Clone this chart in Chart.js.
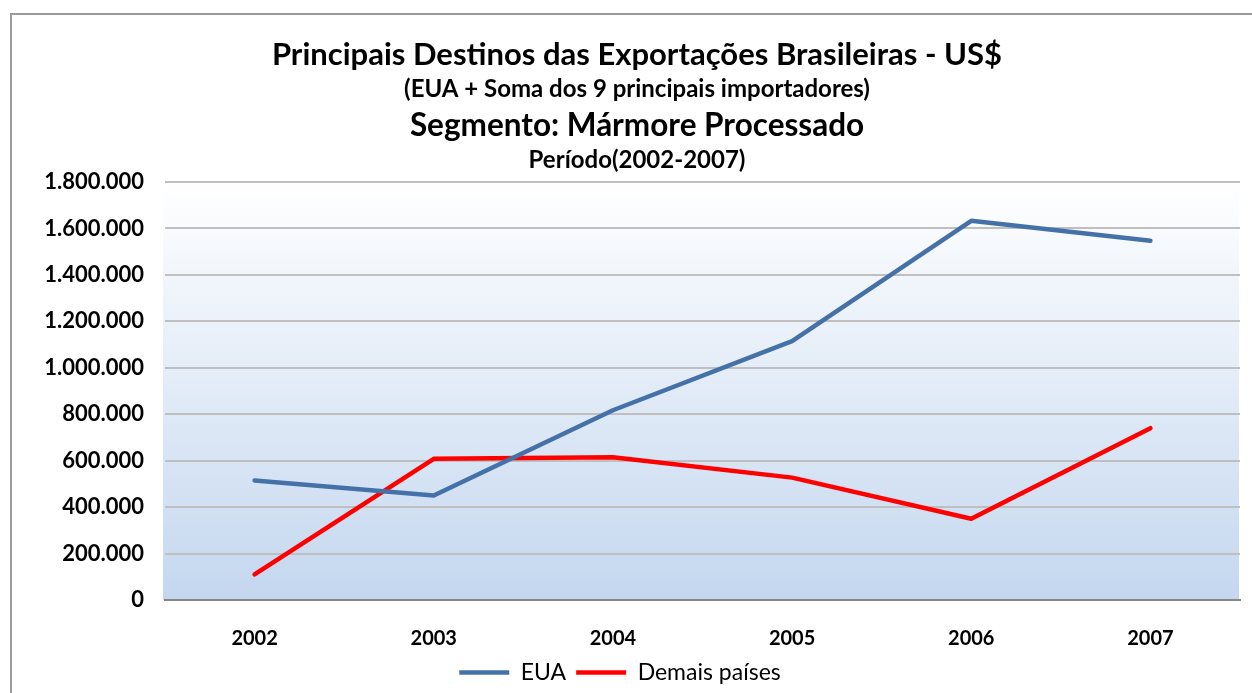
<!DOCTYPE html>
<html>
<head>
<meta charset="utf-8">
<script src="https://cdn.jsdelivr.net/npm/chart.js@4.4.0/dist/chart.umd.min.js"></script>
<style>
  html, body { margin: 0; padding: 0; background: #fff; overflow: hidden; }
  #marco { position: absolute; left: 10px; top: 13px; width: 1300px; height: 750px; border: 2px solid #9a9a9a; }
  #caja { position: absolute; left: 0; top: 0; width: 1252px; height: 693px; }
</style>
</head>
<body>
<div id="marco"></div>
<div id="caja"><canvas id="grafico"></canvas></div>
<script>
// Datos del grafico
var anos = ["2002", "2003", "2004", "2005", "2006", "2007"];
var valoresEUA = [515000, 450000, 817000, 1115000, 1633000, 1547000];
var valoresDemais = [110000, 608000, 615000, 527000, 350000, 740000];
var nomesSeries = ["EUA", "Demais países"];
var lineasTitulo = [
  "Principais Destinos das Exportações Brasileiras - US$",
  "(EUA + Soma dos 9 principais importadores)",
  "Segmento: Mármore Processado",
  "Período(2002-2007)"
];
var ejeMin = 0;
var ejeMax = 1800000;
var ejePaso = 200000;

// Estilo de cada linea del titulo (tamaño y posicion vertical)
var estilosTitulo = [
  { size: 31, y: 55 },
  { size: 24, y: 89 },
  { size: 31.5, y: 126 },
  { size: 24, y: 160 }
];

var fuente = "Lato";

// Fondo degradado del area del grafico
const fondoPlugin = {
  id: "fondoDegradado",
  beforeDraw(chart) {
    const a = chart.chartArea;
    const ctx = chart.ctx;
    const g = ctx.createLinearGradient(0, a.top, 0, a.bottom);
    g.addColorStop(0, "#ffffff");
    g.addColorStop(1, "#c4d7ef");
    ctx.save();
    ctx.fillStyle = g;
    ctx.fillRect(a.left - 2, a.top, a.right - a.left + 1, a.bottom - a.top);
    ctx.restore();
  }
};

// Titulo de varias lineas con tamaños distintos
const tituloPlugin = {
  id: "tituloMultiple",
  afterDraw(chart) {
    const ctx = chart.ctx;
    ctx.save();
    ctx.fillStyle = "#000";
    ctx.textAlign = "center";
    ctx.textBaseline = "middle";
    for (var i = 0; i < lineasTitulo.length; i++) {
      ctx.font = "bold " + estilosTitulo[i].size + "px " + fuente;
      ctx.fillText(lineasTitulo[i], 637, estilosTitulo[i].y);
    }
    ctx.restore();
  }
};

const formatoMiles = (v) => v.toString().replace(/\B(?=(\d{3})+(?!\d))/g, ".");

new Chart(document.getElementById("grafico"), {
  type: "line",
  data: {
    labels: anos,
    datasets: [
      {
        label: nomesSeries[0],
        data: valoresEUA,
        borderColor: "#4571a9",
        backgroundColor: "#4571a9",
        borderWidth: 4.5,
        borderCapStyle: "round",
        borderJoinStyle: "round",
        pointRadius: 0,
        tension: 0
      },
      {
        label: nomesSeries[1],
        data: valoresDemais,
        borderColor: "#ff0000",
        backgroundColor: "#ff0000",
        borderWidth: 4.5,
        borderCapStyle: "round",
        borderJoinStyle: "round",
        pointRadius: 0,
        tension: 0
      }
    ]
  },
  options: {
    responsive: true,
    maintainAspectRatio: false,
    animation: false,
    layout: {
      padding: { top: 182, right: 12, left: 0, bottom: -1 }
    },
    plugins: {
      title: { display: false },
      tooltip: { enabled: false },
      legend: {
        position: "bottom",
        labels: {
          usePointStyle: true,
          pointStyle: "line",
          pointStyleWidth: 50,
          boxHeight: 4,
          padding: 10,
          color: "#000",
          font: { family: fuente, size: 23 }
        }
      }
    },
    scales: {
      x: {
        offset: true,
        grid: { display: false, drawTicks: false },
        border: { display: true, color: "#868686", width: 2 },
        ticks: {
          color: "#000",
          padding: 27,
          font: { family: fuente, size: 20, weight: "bold" }
        },
        afterFit: (scale) => { scale.height = 51; }
      },
      y: {
        min: ejeMin,
        max: ejeMax,
        grid: { color: "#bfbfbf", lineWidth: 2, drawTicks: false },
        border: { display: false },
        ticks: {
          stepSize: ejePaso,
          color: "#000",
          padding: 21,
          font: { family: fuente, size: 22, weight: "bold" },
          callback: formatoMiles
        },
        afterFit: (scale) => { scale.width = 165; }
      }
    }
  },
  plugins: [fondoPlugin, tituloPlugin]
});
</script>
</body>
</html>
